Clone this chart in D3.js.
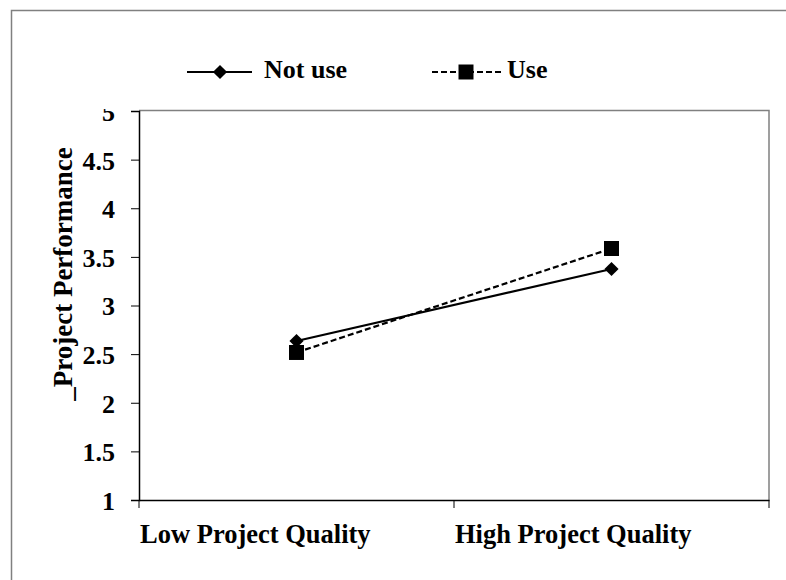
<!DOCTYPE html>
<html><head><meta charset="utf-8">
<script src="https://cdn.jsdelivr.net/npm/d3@7"></script>
<style>body{margin:0;background:#fff}svg{display:block}svg text{font-family:"Liberation Serif","Times New Roman",serif !important;font-weight:bold}</style>
</head><body>
<svg id="c" width="786" height="580"></svg>
<script>
const categories = ["Low Project Quality", "High Project Quality"];
const notUse = [2.635, 3.375];
const use = [2.517, 3.586];
const yTicks = [1, 1.5, 2, 2.5, 3, 3.5, 4, 4.5, 5];
const seriesNames = ["Not use", "Use"];

const svg = d3.select("#c");
const FS = 26;
const L = 139, R = 769, T = 111, B = 500;

// outer border
svg.append("path").attr("d", "M11.5,580 V10.5 H786").attr("fill","none").attr("stroke","#808080").attr("stroke-width",1.5);

const x = d3.scaleBand().domain(categories).range([L, R]);
const y = d3.scaleLinear().domain([1, 5]).range([B, T]);

// plot area border (top/right gray)
svg.append("path").attr("d", `M${L},${T-0.5} H${R} V${B}`).attr("fill","none").attr("stroke","#808080").attr("stroke-width",1.5);

const yAxis = svg.append("g").attr("transform", `translate(${L},0)`)
  .call(d3.axisLeft(y).tickValues(yTicks).tickSize(8).tickPadding(16).tickFormat(d3.format("")));
yAxis.select(".domain").attr("stroke","#000").attr("stroke-width",1.5);
yAxis.selectAll(".tick line").attr("stroke","#000");
yAxis.selectAll("text").attr("font-size",FS).attr("fill","#000").attr("dy","0.36em");

const xAxis = svg.append("g").attr("transform", `translate(0,${B})`)
  .call(d3.axisBottom(x).tickSize(0).tickPadding(24));
xAxis.select(".domain").attr("stroke","#000").attr("stroke-width",1.5);
xAxis.selectAll("text").attr("font-size",26.5).attr("fill","#000")
  .attr("text-anchor","start").attr("x", -x.bandwidth()/2 + 1);
// boundary ticks
const bounds = [L, L + x.bandwidth(), R];
svg.append("g").selectAll("line").data(bounds).join("line")
  .attr("x1", d=>d).attr("x2", d=>d).attr("y1", B).attr("y2", B+8).attr("stroke","#000").attr("stroke-width",1);

const cx = d => x(d) + x.bandwidth()/2;
const line = d3.line().x((d,i)=>cx(categories[i])).y(d=>y(d));

svg.append("path").datum(notUse).attr("d", line).attr("fill","none").attr("stroke","#000").attr("stroke-width",2.2);
svg.append("path").datum(use).attr("d", line).attr("fill","none").attr("stroke","#000").attr("stroke-width",2.2).attr("stroke-dasharray","6,3");

const diamond = d3.symbol().type(d3.symbolDiamond2).size(128);
const square = d3.symbol().type(d3.symbolSquare).size(225);
svg.append("g").selectAll("path").data(notUse).join("path")
  .attr("d", diamond).attr("transform",(d,i)=>`translate(${cx(categories[i])},${y(d)})`).attr("fill","#000");
svg.append("g").selectAll("path").data(use).join("path")
  .attr("d", square).attr("transform",(d,i)=>`translate(${cx(categories[i])},${y(d)})`).attr("fill","#000");

// legend (white background covers top of "5")
const lg = svg.append("g");
lg.append("rect").attr("x",20).attr("y",40).attr("width",700).attr("height",69).attr("fill","#fff");
const ly = 72;
lg.append("line").attr("x1",187).attr("x2",252).attr("y1",ly).attr("y2",ly).attr("stroke","#000").attr("stroke-width",2.2);
lg.append("path").attr("d", diamond).attr("transform",`translate(220,${ly})`).attr("fill","#000");
lg.append("text").attr("x",264).attr("y",ly+6).attr("font-size",FS).text(seriesNames[0]);
lg.append("line").attr("x1",432).attr("x2",503).attr("y1",ly).attr("y2",ly).attr("stroke","#000").attr("stroke-width",2.2).attr("stroke-dasharray","6,3");
lg.append("path").attr("d", square).attr("transform",`translate(466,${ly})`).attr("fill","#000");
lg.append("text").attr("x",507).attr("y",ly+6).attr("font-size",FS).text(seriesNames[1]);

// y-axis title
svg.append("text").attr("transform",`translate(72,274) rotate(-90)`).attr("text-anchor","middle")
  .attr("font-size",27).text("_Project Performance");
</script>
</body></html>
